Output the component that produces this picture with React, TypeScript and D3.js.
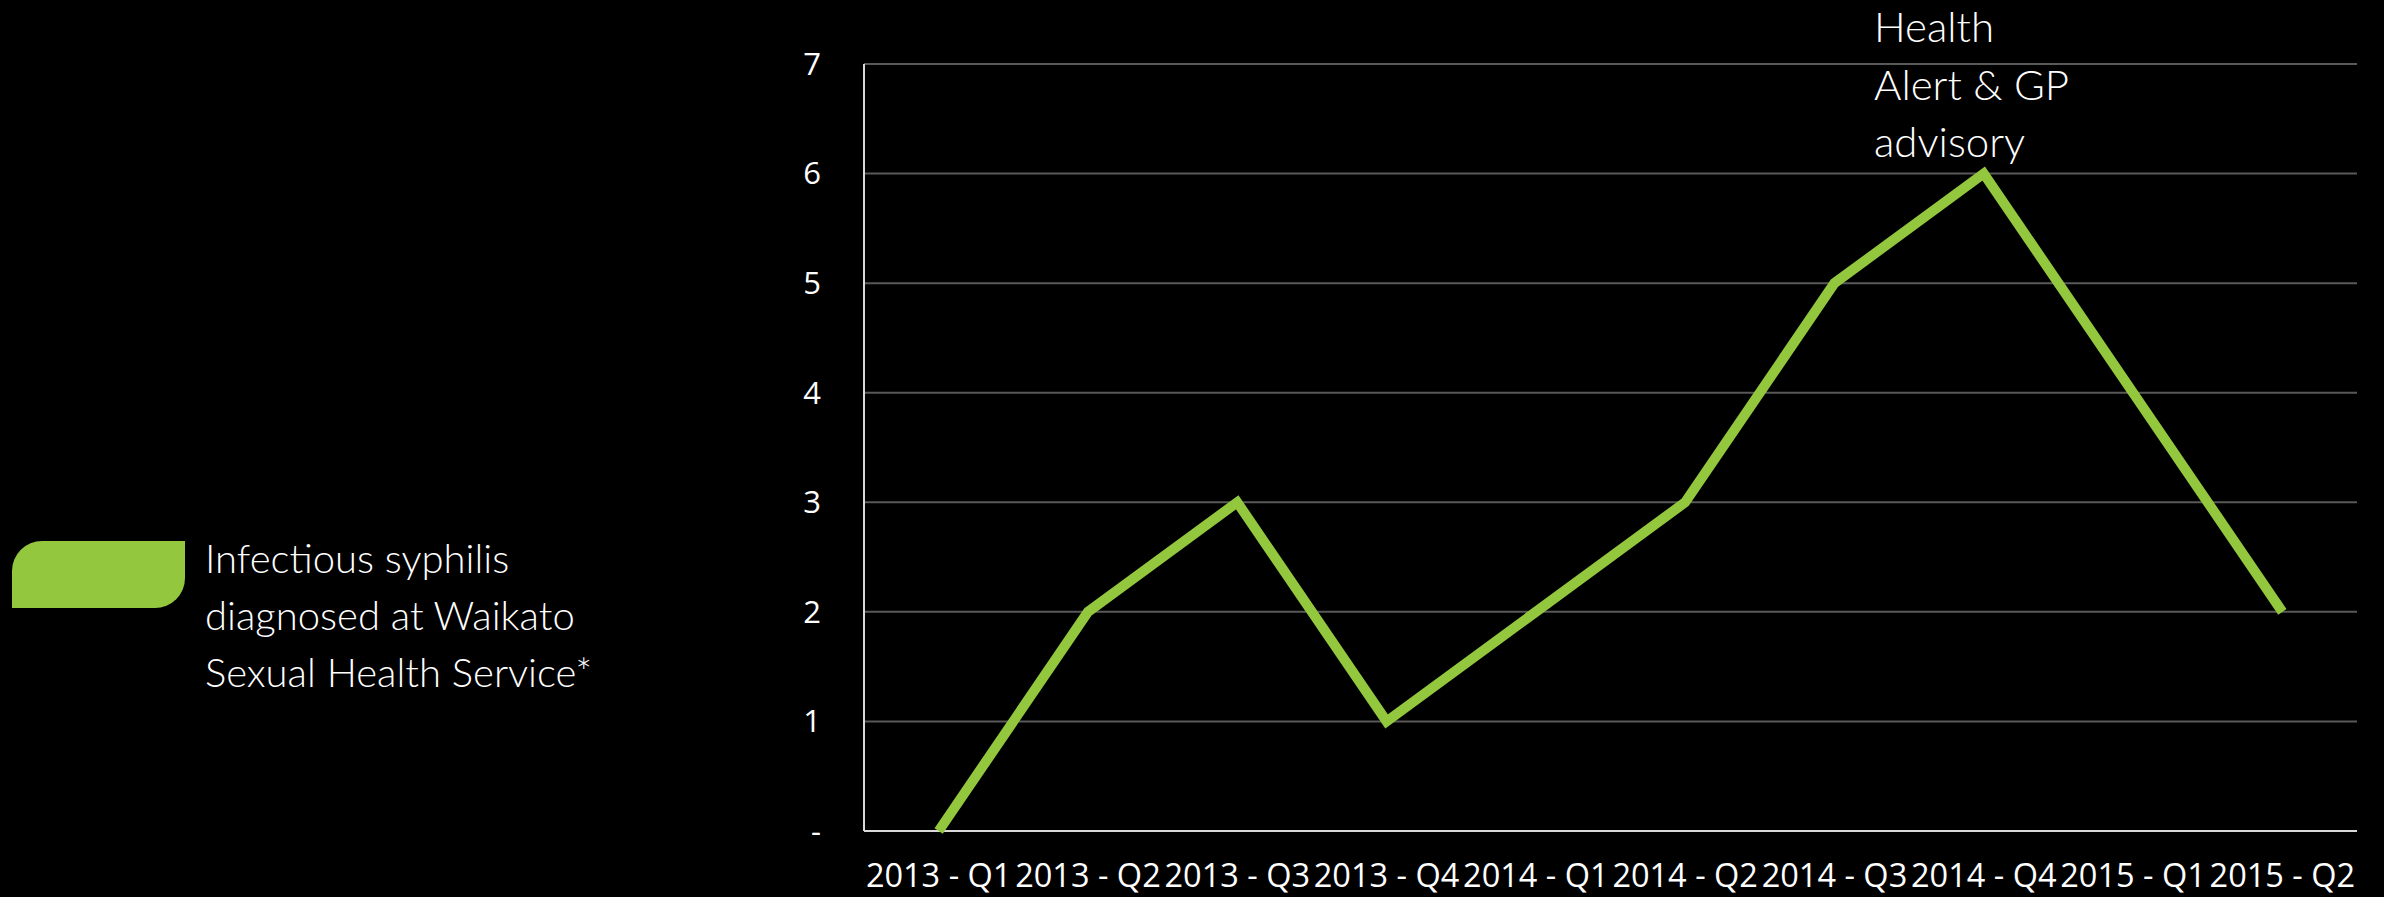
import React from "react";
import * as d3 from "d3";

const categories = [
  "2013 - Q1", "2013 - Q2", "2013 - Q3", "2013 - Q4",
  "2014 - Q1", "2014 - Q2", "2014 - Q3", "2014 - Q4",
  "2015 - Q1", "2015 - Q2",
];
const syphilisCases = [0, 2, 3, 1, 2, 3, 5, 6, 4, 2];
const yTicks = [0, 1, 2, 3, 4, 5, 6, 7];
const legendLines = ["Infectious syphilis", "diagnosed at Waikato", "Sexual Health Service*"];
const annotationLines = ["Health", "Alert & GP", "advisory"];

const W = 2384;
const H = 897;
const plot = { left: 864, right: 2357, top: 64, bottom: 831 };
const GREEN = "#93C83E";
const LABEL_FONT = "'Open Sans', 'Liberation Sans', sans-serif";
const THIN_FONT = "Lato, 'Open Sans', sans-serif";

export default function App() {
  const x = d3.scaleBand<string>().domain(categories).range([plot.left, plot.right]).padding(0);
  const y = d3.scaleLinear().domain([0, 7]).range([plot.bottom, plot.top]);
  const cx = (c: string) => (x(c) as number) + x.bandwidth() / 2;
  const line = d3
    .line<number>()
    .x((_, i) => cx(categories[i]))
    .y((d) => y(d));

  // leaf-shaped swatch: rounded top-left and bottom-right corners
  const sw = { x0: 12, y0: 541, x1: 185, y1: 608, r: 30 };
  const swatch = `M${sw.x0},${sw.y0 + sw.r} A${sw.r},${sw.r} 0 0 1 ${sw.x0 + sw.r},${sw.y0} L${sw.x1},${sw.y0} L${sw.x1},${sw.y1 - sw.r} A${sw.r},${sw.r} 0 0 1 ${sw.x1 - sw.r},${sw.y1} L${sw.x0},${sw.y1} Z`;

  return (
    <svg
      width={W}
      height={H}
      style={{ position: "absolute", left: 0, top: 0, display: "block" }}
    >
      <rect x={0} y={0} width={W} height={H} fill="#000" />
      {/* gridlines */}
      {yTicks.filter((t) => t > 0).map((t) => (
        <line key={t} x1={plot.left} x2={plot.right} y1={y(t)} y2={y(t)} stroke="#595959" strokeWidth={2} />
      ))}
      {/* axes */}
      <line x1={plot.left} x2={plot.left} y1={plot.top} y2={plot.bottom} stroke="#d9d9d9" strokeWidth={2} />
      <line x1={plot.left} x2={plot.right} y1={plot.bottom} y2={plot.bottom} stroke="#d9d9d9" strokeWidth={2} />
      {/* y tick labels */}
      {yTicks.map((t) => (
        <text
          key={t}
          x={821}
          y={y(t)}
          dy="0.35em"
          textAnchor="end"
          fill="#fff"
          fontFamily={LABEL_FONT}
          fontSize={31}
        >
          {t === 0 ? "-" : t}
        </text>
      ))}
      {/* x tick labels */}
      {categories.map((c) => (
        <text
          key={c}
          x={cx(c)}
          y={887}
          textAnchor="middle"
          fill="#fff"
          fontFamily={LABEL_FONT}
          fontSize={32.5}
        >
          {c}
        </text>
      ))}
      {/* data line */}
      <path d={line(syphilisCases) || ""} fill="none" stroke={GREEN} strokeWidth={10} strokeLinejoin="miter" />
      {/* annotation */}
      {annotationLines.map((l, i) => (
        <text
          key={l}
          x={1874}
          y={42 + i * 57.5}
          fill="#fff"
          fontFamily={THIN_FONT}
          fontWeight={300}
          fontSize={42}
        >
          {l}
        </text>
      ))}
      {/* legend */}
      <path d={swatch} fill={GREEN} />
      {legendLines.map((l, i) => (
        <text
          key={l}
          x={205}
          y={573 + i * 57}
          fill="#fff"
          fontFamily={THIN_FONT}
          fontWeight={300}
          fontSize={40}
        >
          {l}
        </text>
      ))}
    </svg>
  );
}
